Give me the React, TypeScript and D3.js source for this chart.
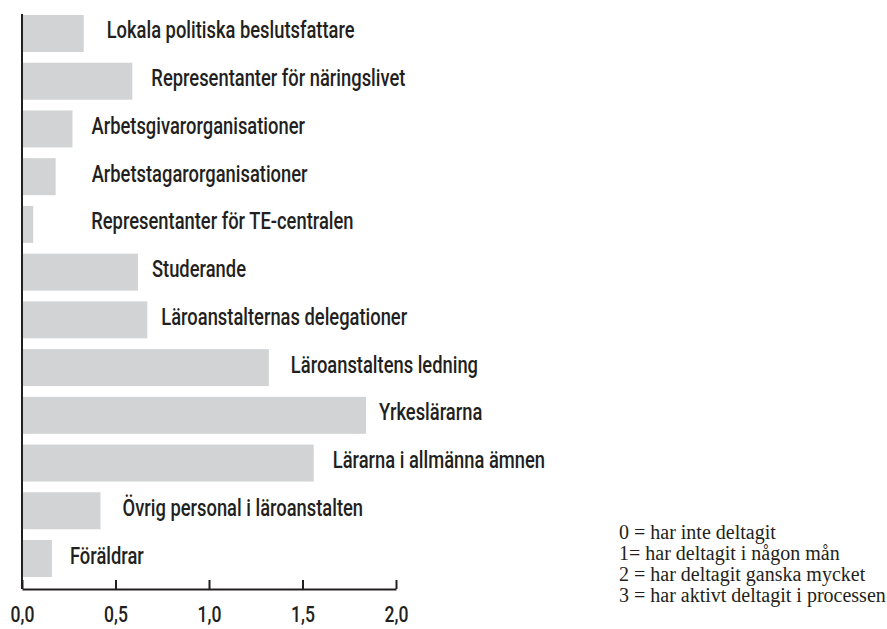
import { useEffect, useRef } from 'react';
import * as d3 from 'd3';

const categories = [
  'Lokala politiska beslutsfattare',
  'Representanter för näringslivet',
  'Arbetsgivarorganisationer',
  'Arbetstagarorganisationer',
  'Representanter för TE-centralen',
  'Studerande',
  'Läroanstalternas delegationer',
  'Läroanstaltens ledning',
  'Yrkeslärarna',
  'Lärarna i allmänna ämnen',
  'Övrig personal i läroanstalten',
  'Föräldrar',
];

const values = [0.33, 0.59, 0.27, 0.18, 0.06, 0.62, 0.67, 1.32, 1.84, 1.56, 0.42, 0.16];

const xTicks = [0, 0.5, 1, 1.5, 2];

const legendLines = [
  '0 = har inte deltagit',
  '1= har deltagit i någon mån',
  '2 = har deltagit ganska mycket',
  '3 = har aktivt deltagit i processen',
];

// label gap from bar end, in px (labels in the original are placed by hand)
const labelGaps = [23, 19, 19, 36, 58, 14, 14, 22, 13, 19, 22, 18];

const W = 887;
const H = 629;
const INK = '#231f20';
const BAR = '#d1d3d4';
const LABEL_FONT = 'Roboto, "Noto Sans", sans-serif';
// width of the first label in the original, used to squeeze the font like a condensed face
const FIRST_LABEL_WIDTH = 248;

const App = () => {
  const ref = useRef<SVGSVGElement | null>(null);

  useEffect(() => {
    if (!ref.current) return;
    const svg = d3.select(ref.current);
    svg.selectAll('*').remove();

    const x = d3.scaleLinear().domain([0, 2]).range([22, 396]);
    const y = d3.scaleBand<string>().domain(categories).range([15, 577]).paddingInner(0.225).paddingOuter(0);
    const axisY = 589;

    // bars
    svg.append('g')
      .selectAll('rect')
      .data(values)
      .join('rect')
      .attr('x', x(0))
      .attr('y', (_, i) => y(categories[i])!)
      .attr('width', (d) => x(d) - x(0))
      .attr('height', y.bandwidth())
      .attr('fill', BAR);

    // bar labels
    const labels = svg.append('g')
      .selectAll('text')
      .data(values)
      .join('text')
      .attr('font-family', LABEL_FONT)
      .attr('font-weight', 500)
      .attr('font-size', 23)
      .attr('fill', INK)
      .text((_, i) => categories[i]);

    const first = labels.node() as SVGTextElement | null;
    const sx = first ? FIRST_LABEL_WIDTH / first.getComputedTextLength() : 0.8;

    labels.attr('transform', (d, i) => {
      const tx = x(d) + labelGaps[i];
      const ty = y(categories[i])! + y.bandwidth() / 2 + 5;
      return `translate(${tx},${ty}) scale(${sx},1)`;
    });

    // y axis line
    svg.append('line')
      .attr('x1', x(0)).attr('x2', x(0))
      .attr('y1', 14).attr('y2', axisY)
      .attr('stroke', INK).attr('stroke-width', 2);

    // x axis
    const xAxis = d3.axisBottom(x)
      .tickValues(xTicks)
      .tickSize(0)
      .tickFormat((d) => d3.format('.1f')(d as number).replace('.', ','));

    const gx = svg.append('g').attr('transform', `translate(0,${axisY})`).call(xAxis);
    gx.select('.domain').attr('stroke', INK).attr('stroke-width', 2);
    gx.selectAll('.tick line').remove();
    gx.selectAll('.tick')
      .append('line')
      .attr('y1', -9).attr('y2', 0)
      .attr('stroke', INK).attr('stroke-width', 2);
    gx.selectAll('.tick text')
      .attr('y', 33)
      .attr('dy', 0)
      .attr('transform', `scale(${sx},1)`)
      .attr('font-family', LABEL_FONT)
      .attr('font-weight', 500)
      .attr('font-size', 22)
      .attr('fill', INK);

    // legend
    svg.append('g')
      .selectAll('text')
      .data(legendLines)
      .join('text')
      .attr('x', 619)
      .attr('y', (_, i) => 539 + i * 21)
      .attr('font-family', '"Liberation Serif", "DejaVu Serif", serif')
      .attr('font-size', 20)
      .attr('fill', INK)
      .text((d) => d);
  }, []);

  return (
    <svg
      ref={ref}
      width={W}
      height={H}
      style={{ position: 'absolute', left: 0, top: 0, background: '#fff' }}
    />
  );
};

export default App;
